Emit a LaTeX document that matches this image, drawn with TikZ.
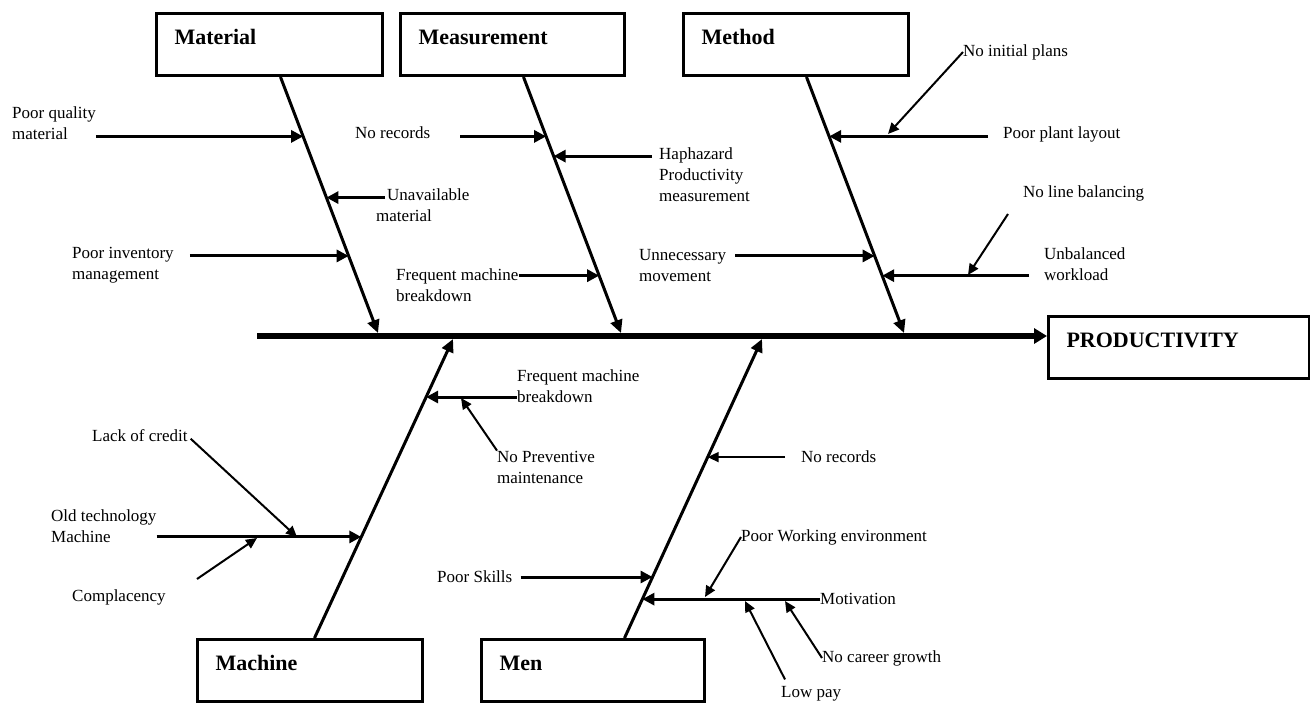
\documentclass[tikz,border=0pt]{standalone}
\usepackage{fontspec}
\setmainfont{Liberation Serif}
\usetikzlibrary{arrows.meta, calc, positioning}

\begin{document}
\begin{tikzpicture}
    [
        x=1pt, y=-1pt,
        headbox/.style = {
            draw, line width=3pt, inner xsep=18pt, inner ysep=0pt,
            text height=31pt, text depth=31pt, align=left, anchor=north west,
            font=\fontsize{22}{26}\selectfont\bfseries
            },
        why/.style = {
            font=\fontsize{17}{21}\selectfont, inner sep=0pt, align=left, anchor=west
            },
        spine/.style = {
            line width=6pt, -{Triangle[length=13pt,width=15pt]}
            },
        bone/.style = {
            line width=3pt, -{Triangle[length=13pt,width=12pt]}
            },
        cause/.style = {
            line width=3pt, -{Triangle[length=12pt,width=12pt]}
            },
        subcause/.style = {
            line width=2pt, -{Triangle[length=11pt,width=10pt]}
            },
    ]
    \useasboundingbox (0,0) rectangle (1310,704);
    %boxes
    \node[headbox, text width=190pt] (mat) at (155,12) {Material};
    \node[headbox, text width=188pt] (meas) at (399,12) {Measurement};
    \node[headbox, text width=189pt] (meth) at (682,12) {Method};
    \node[headbox, text width=225pt] (prod) at (1047,315) {PRODUCTIVITY};
    \node[headbox, text width=189pt] (mach) at (196,638) {Machine};
    \node[headbox, text width=187pt] (men) at (480,638) {Men};
    %spine and bones
    \coordinate (tail) at (257,336);
    \draw[spine] (tail) -- (tail -| prod.west);
    \coordinate (matb) at ([xshift=11pt]mat.south);
    \coordinate (mats) at (378,333);
    \coordinate (measb) at ([xshift=11pt]meas.south);
    \coordinate (meass) at (621,333);
    \coordinate (methb) at ([xshift=10.5pt]meth.south);
    \coordinate (meths) at (904,333);
    \coordinate (machb) at ([xshift=4.5pt]mach.north);
    \coordinate (machs) at (453,339);
    \coordinate (menb) at ([xshift=31.5pt]men.north);
    \coordinate (mens) at (762,339);
    \draw[bone] (matb) -- (mats);
    \draw[bone] (measb) -- (meass);
    \draw[bone] (methb) -- (meths);
    \draw[bone] (machb) -- (machs);
    \draw[bone] (menb) -- (mens);
    %points on the bones
    \coordinate (mat1) at ($(matb)!0.232!(mats)$);
    \coordinate (mat2) at ($(matb)!0.471!(mats)$);
    \coordinate (mat3) at ($(matb)!0.699!(mats)$);
    \coordinate (meas1) at ($(measb)!0.232!(meass)$);
    \coordinate (meas2) at ($(measb)!0.309!(meass)$);
    \coordinate (meas3) at ($(measb)!0.776!(meass)$);
    \coordinate (meth1) at ($(methb)!0.232!(meths)$);
    \coordinate (meth2) at ($(methb)!0.699!(meths)$);
    \coordinate (meth3) at ($(methb)!0.776!(meths)$);
    \coordinate (mach1) at ($(machb)!0.338!(machs)$);
    \coordinate (mach2) at ($(machb)!0.806!(machs)$);
    \coordinate (men1) at ($(menb)!0.130!(mens)$);
    \coordinate (men2) at ($(menb)!0.204!(mens)$);
    \coordinate (men3) at ($(menb)!0.605!(mens)$);
    %material
    \node[why] (poorqual) at (12,123.5) {Poor quality\\material};
    \node[why] (unavail) at (376,205.5) {\hspace*{11pt}Unavailable\\material};
    \node[why] (poorinv) at (72,265.5) {Poor inventory\\management};
    \draw[cause] (poorqual.east |- mat1) -- (mat1);
    \draw[cause, shorten <=-9pt] (unavail.west |- mat2) -- (mat2);
    \draw[cause, shorten <=16pt] (poorinv.east |- mat3) -- (mat3);
    %measurement
    \node[why] (norec) at (355,133) {No records};
    \node[why] (haphaz) at (659,175) {Haphazard\\Productivity\\measurement};
    \node[why] (freqbrk) at (396,285.5) {Frequent machine\\breakdown};
    \draw[cause, shorten <=30pt] (norec.east |- meas1) -- (meas1);
    \draw[cause, shorten <=7pt] (haphaz.west |- meas2) -- (meas2);
    \draw[cause] (freqbrk.east |- meas3) -- (meas3);
    %method
    \node[why] (noplans) at (963,52) {No initial plans};
    \node[why] (poorlayout) at (1003,134) {Poor plant layout};
    \node[why] (nolinebal) at (1023,193) {No line balancing};
    \node[why] (unbal) at (1044,264.5) {Unbalanced\\workload};
    \node[why] (unnecmove) at (639,265.5) {Unnecessary\\movement};
    \draw[cause, shorten <=15pt] (poorlayout.west |- meth1) -- (meth1);
    \draw[cause, shorten <=15pt] (unbal.west |- meth3) -- (meth3);
    \draw[cause, shorten <=9pt] (unnecmove.east |- meth2) -- (meth2);
    \coordinate (planstip) at (888,134);
    \coordinate (balstart) at (1008,214);
    \coordinate (baltip) at (968,275);
    \draw[subcause] (noplans.west) -- (planstip);
    \draw[subcause] (balstart) -- (baltip);
    %machine
    \node[why] (freqbrk2) at (517,386.5) {Frequent machine\\breakdown};
    \node[why] (noprev) at (497,467) {No Preventive\\maintenance};
    \node[why] (lackcredit) at (92,436) {Lack of credit};
    \node[why] (oldtech) at (51,526.5) {Old technology\\Machine};
    \node[why] (complac) at (72,597) {Complacency};
    \draw[cause] (freqbrk2.west |- mach2) -- (mach2);
    \draw[cause] (oldtech.east |- mach1) -- (mach1);
    \coordinate (prevtip) at (461,398);
    \coordinate (credtip) at (297,537);
    \coordinate (compstart) at (197,579);
    \coordinate (comptip) at (257,538);
    \draw[subcause] (noprev.north west) -- (prevtip);
    \draw[subcause, shorten <=4pt] (lackcredit.east) -- (credtip);
    \draw[subcause] (compstart) -- (comptip);
    %men
    \node[why] (norec2) at (801,457) {No records};
    \node[why] (poorskill) at (437,577) {Poor Skills};
    \node[why] (motiv) at (820,599) {Motivation};
    \node[why] (poorwork) at (741,537) {Poor Working environment};
    \node[why] (careerg) at (822,658) {No career growth};
    \node[why] (lowpay) at (781,694) {Low pay};
    \draw[subcause, shorten <=16pt] (norec2.west |- men3) -- (men3);
    \draw[cause, shorten <=8pt] (poorskill.east |- men2) -- (men2);
    \draw[cause] (motiv.west |- men1) -- (men1);
    \coordinate (worktip) at (705,597);
    \coordinate (careertip) at (785,601);
    \coordinate (paytip) at (745,601);
    \draw[subcause] (poorwork.west) -- (worktip);
    \draw[subcause] (careerg.west) -- (careertip);
    \draw[subcause] ([xshift=4pt,yshift=7pt]lowpay.north west) -- (paytip);
\end{tikzpicture}
\end{document}
